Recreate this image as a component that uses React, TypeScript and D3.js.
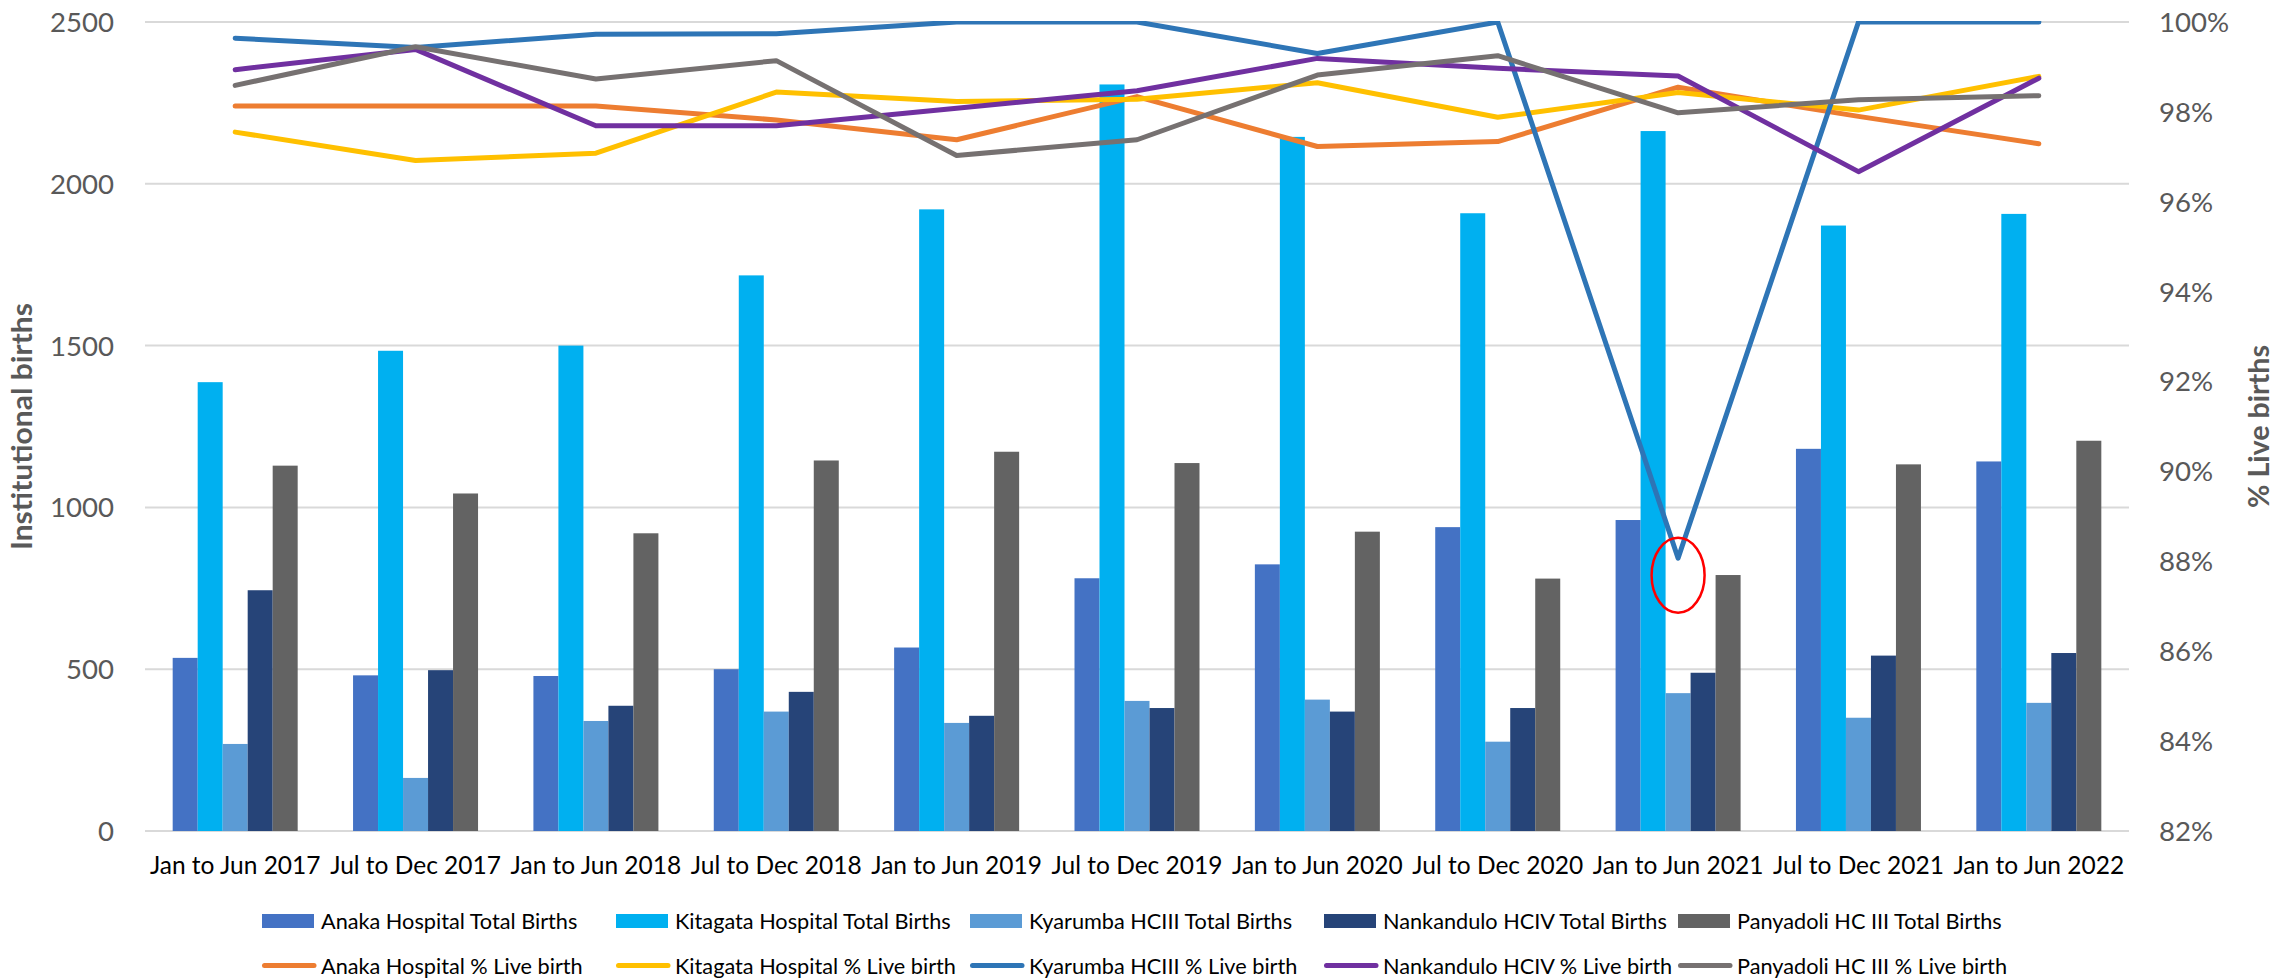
import React from "react";
import * as d3 from "d3";

const categories = [
  "Jan to Jun 2017", "Jul to Dec 2017", "Jan to Jun 2018", "Jul to Dec 2018",
  "Jan to Jun 2019", "Jul to Dec 2019", "Jan to Jun 2020", "Jul to Dec 2020",
  "Jan to Jun 2021", "Jul to Dec 2021", "Jan to Jun 2022",
];

const anakaBirths = [535, 481, 479, 500, 567, 781, 824, 939, 961, 1181, 1142];
const kitagataBirths = [1387, 1484, 1500, 1717, 1921, 2307, 2145, 1909, 2163, 1871, 1907];
const kyarumbaBirths = [269, 164, 340, 369, 334, 402, 406, 276, 426, 350, 396];
const nankanduloBirths = [744, 497, 387, 430, 356, 380, 369, 380, 489, 542, 550];
const panyadoliBirths = [1129, 1043, 920, 1145, 1172, 1137, 925, 780, 791, 1133, 1206];

const anakaLive = [98.13, 98.13, 98.13, 97.82, 97.38, 98.34, 97.23, 97.34, 98.55, 97.9, 97.29];
const kitagataLive = [97.55, 96.92, 97.08, 98.44, 98.23, 98.28, 98.65, 97.88, 98.43, 98.04, 98.79];
const kyarumbaLive = [99.64, 99.43, 99.73, 99.74, 100, 100, 99.3, 100, 88.07, 100, 100];
const nankanduloLive = [98.94, 99.39, 97.69, 97.69, 98.08, 98.47, 99.19, 98.97, 98.8, 96.67, 98.75];
const panyadoliLive = [98.59, 99.45, 98.73, 99.14, 97.03, 97.38, 98.82, 99.25, 97.98, 98.27, 98.36];

const leftTicks = [0, 500, 1000, 1500, 2000, 2500];
const rightTicks = [82, 84, 86, 88, 90, 92, 94, 96, 98, 100];

const barSeries = [
  { name: "Anaka Hospital Total Births", values: anakaBirths, color: "#4472C4" },
  { name: "Kitagata Hospital Total Births", values: kitagataBirths, color: "#00B0F0" },
  { name: "Kyarumba HCIII Total Births", values: kyarumbaBirths, color: "#5B9BD5" },
  { name: "Nankandulo HCIV Total Births", values: nankanduloBirths, color: "#264478" },
  { name: "Panyadoli HC III Total Births", values: panyadoliBirths, color: "#636363" },
];

const lineSeries = [
  { name: "Anaka Hospital % Live birth", values: anakaLive, color: "#ED7D31" },
  { name: "Kitagata Hospital % Live birth", values: kitagataLive, color: "#FFC000" },
  { name: "Kyarumba HCIII % Live birth", values: kyarumbaLive, color: "#2E75B6" },
  { name: "Nankandulo HCIV % Live birth", values: nankanduloLive, color: "#7030A0" },
  { name: "Panyadoli HC III % Live birth", values: panyadoliLive, color: "#767171" },
];

const FONT = "Lato, 'Open Sans', sans-serif";

export default function App() {
  const W = 2292;
  const H = 980;
  const left = 145;
  const right = 2129;
  const top = 22;
  const bottom = 831;

  const x = d3.scaleBand<string>().domain(categories).range([left, right]).padding(0);
  const bw = x.bandwidth();
  const groupW = 125;
  const xSub = d3
    .scaleBand<string>()
    .domain(barSeries.map((s) => s.name))
    .range([bw / 2 - groupW / 2, bw / 2 + groupW / 2])
    .padding(0);
  const yL = d3.scaleLinear().domain([0, 2500]).range([bottom, top]);
  const yR = d3.scaleLinear().domain([82, 100]).range([bottom, top]);

  const line = d3
    .line<number>()
    .x((_, i) => (x(categories[i]) as number) + bw / 2)
    .y((d) => yR(d));

  const legendStep = 354;
  const legendX0 = 262;

  const minIdx = kyarumbaLive.indexOf(d3.min(kyarumbaLive) as number);
  const circleCx = (x(categories[minIdx]) as number) + bw / 2;
  const circleCy = yR(kyarumbaLive[minIdx]) + 17;

  return (
    <svg
      width={W}
      height={H}
      style={{ position: "absolute", left: 0, top: 0, background: "#fff" }}
      fontFamily={FONT}
    >
      <defs>
        <clipPath id="plotClip">
          <rect x={left} y={top - 1} width={right - left} height={bottom - top + 1} />
        </clipPath>
      </defs>
      <rect x={0} y={0} width={W} height={H} fill="#fff" />

      {/* gridlines */}
      {leftTicks.map((t) => (
        <line key={"g" + t} x1={left} x2={right} y1={yL(t)} y2={yL(t)} stroke="#D9D9D9" strokeWidth={2} />
      ))}

      {/* left tick labels */}
      {leftTicks.map((t) => (
        <text key={"l" + t} x={114} y={yL(t)} dy="0.36em" textAnchor="end" fontSize={27.6} fill="#595959">
          {t}
        </text>
      ))}

      {/* right tick labels */}
      {rightTicks.map((t) => (
        <text key={"r" + t} x={2159} y={yR(t)} dy="0.36em" textAnchor="start" fontSize={27.6} fill="#595959">
          {t}%
        </text>
      ))}

      {/* bars */}
      {barSeries.map((s) =>
        s.values.map((v, i) => (
          <rect
            key={s.name + i}
            x={(x(categories[i]) as number) + (xSub(s.name) as number)}
            y={yL(v)}
            width={xSub.bandwidth()}
            height={yL(0) - yL(v)}
            fill={s.color}
          />
        ))
      )}

      {/* lines */}
      <g clipPath="url(#plotClip)">
        {lineSeries.map((s) => (
          <path
            key={s.name}
            d={line(s.values) as string}
            fill="none"
            stroke={s.color}
            strokeWidth={5}
            strokeLinejoin="round"
            strokeLinecap="round"
          />
        ))}
      </g>

      {/* annotation circle */}
      <ellipse cx={circleCx} cy={circleCy} rx={26.5} ry={37.5} fill="none" stroke="#FF0000" strokeWidth={2.5} />

      {/* category labels */}
      {categories.map((c) => (
        <text key={c} x={(x(c) as number) + bw / 2} y={874} textAnchor="middle" fontSize={24.5} fill="#000">
          {c}
        </text>
      ))}

      {/* axis titles */}
      <text
        transform={`translate(32, 426.5) rotate(-90)`}
        textAnchor="middle"
        fontSize={28}
        fontWeight="bold"
        fill="#595959"
        textLength={247}
        lengthAdjust="spacingAndGlyphs"
      >
        Institutional births
      </text>
      <text
        transform={`translate(2269, 426.5) rotate(-90)`}
        textAnchor="middle"
        fontSize={28}
        fontWeight="bold"
        fill="#595959"
        textLength={163}
        lengthAdjust="spacingAndGlyphs"
      >
        % Live births
      </text>

      {/* legend */}
      {barSeries.map((s, i) => {
        const lx = legendX0 + i * legendStep;
        return (
          <g key={"lb" + i}>
            <rect x={lx} y={914} width={52} height={14} fill={s.color} />
            <text x={lx + 59} y={928.5} fontSize={21.7} fill="#000">
              {s.name}
            </text>
          </g>
        );
      })}
      {lineSeries.map((s, i) => {
        const lx = legendX0 + i * legendStep;
        return (
          <g key={"ll" + i}>
            <line x1={lx + 2.5} x2={lx + 52} y1={965.5} y2={965.5} stroke={s.color} strokeWidth={5} strokeLinecap="round" />
            <text x={lx + 59} y={973.5} fontSize={21.7} fill="#000">
              {s.name}
            </text>
          </g>
        );
      })}
    </svg>
  );
}
